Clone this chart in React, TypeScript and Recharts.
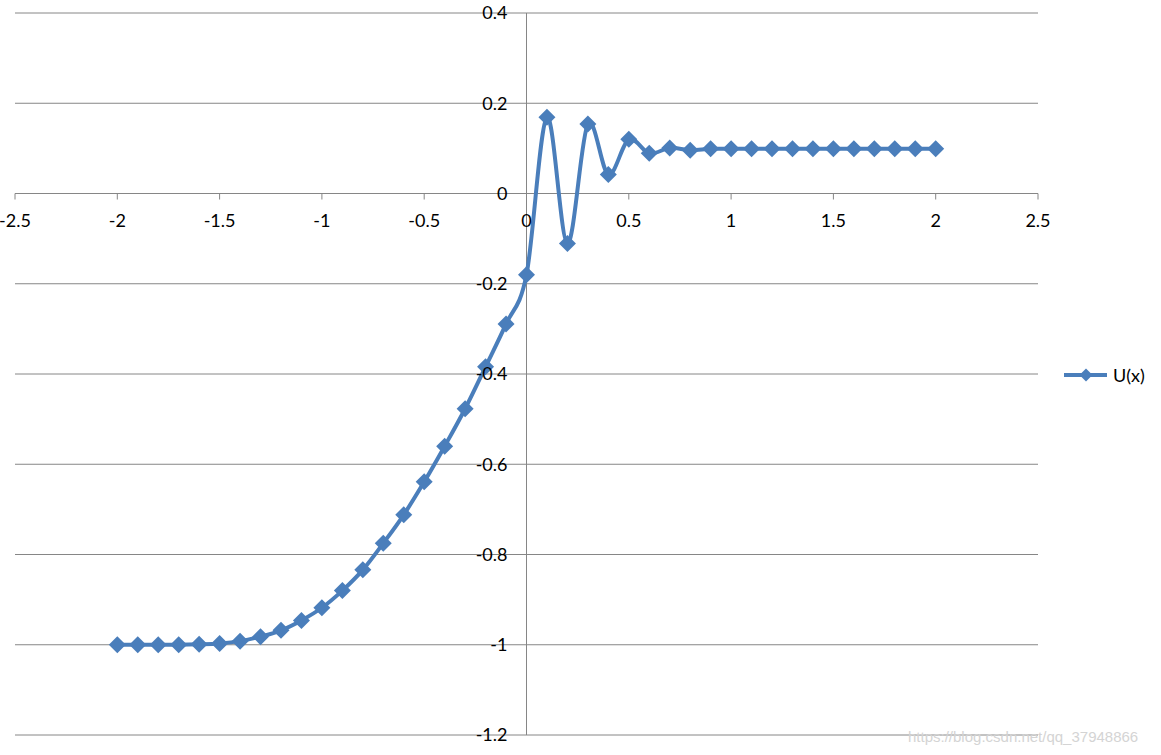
import React from "react";
import {
  LineChart,
  Line,
  XAxis,
  YAxis,
  CartesianGrid,
  ReferenceLine,
} from "recharts";

// x positions, -2 .. 2 in steps of 0.1
const xValues = [
  -2, -1.9, -1.8, -1.7, -1.6, -1.5, -1.4, -1.3, -1.2, -1.1, -1, -0.9, -0.8,
  -0.7, -0.6, -0.5, -0.4, -0.3, -0.2, -0.1, 0, 0.1, 0.2, 0.3, 0.4, 0.5, 0.6,
  0.7, 0.8, 0.9, 1, 1.1, 1.2, 1.3, 1.4, 1.5, 1.6, 1.7, 1.8, 1.9, 2,
];

const uValues = [
  -1.0, -1.0, -1.0, -1.0, -0.999, -0.997, -0.992, -0.982, -0.968, -0.946,
  -0.918, -0.88, -0.834, -0.775, -0.712, -0.639, -0.56, -0.477, -0.384,
  -0.289, -0.18, 0.169, -0.111, 0.154, 0.042, 0.12, 0.089, 0.101, 0.096,
  0.099, 0.099, 0.099, 0.099, 0.099, 0.099, 0.099, 0.099, 0.099, 0.099,
  0.099, 0.099,
];

const xTicks = [-2.5, -2, -1.5, -1, -0.5, 0, 0.5, 1, 1.5, 2, 2.5];
const yTicks = [-1.2, -1, -0.8, -0.6, -0.4, -0.2, 0, 0.2, 0.4];

const data = xValues.map((x, i) => ({ x, u: uValues[i] }));

const W = 1161;
const H = 755;
// plot area spans x 15..1038, y 13..735; axes take left 15 / bottom 20
const X_AXIS_H = 20;
const Y_AXIS_W = 15;
const M = { top: 13, left: 0, right: 123, bottom: 0 };
const plotLeft = Y_AXIS_W;
const plotW = W - Y_AXIS_W - M.right;
const plotH = H - M.top - X_AXIS_H;
const X_MIN = -2.5;
const X_MAX = 2.5;
const Y_MIN = -1.2;
const Y_MAX = 0.4;
// pixel position of the crossing axes
const xZero = plotLeft + (plotW * (0 - X_MIN)) / (X_MAX - X_MIN);
const yZero = M.top + (plotH * (Y_MAX - 0)) / (Y_MAX - Y_MIN);

const BLUE = "#4A7EBB";
const GRID = "#868686";
const FONT = "Lato, 'Open Sans', sans-serif";

// Excel-like smoothed line (Catmull-Rom through the points)
const excelSmooth = (context: any) => {
  let pts: [number, number][] = [];
  return {
    areaStart() {},
    areaEnd() {},
    lineStart() {
      pts = [];
    },
    lineEnd() {
      if (!pts.length) return;
      context.moveTo(pts[0][0], pts[0][1]);
      for (let i = 0; i < pts.length - 1; i++) {
        const p0 = pts[i - 1] || pts[i];
        const p1 = pts[i];
        const p2 = pts[i + 1];
        const p3 = pts[i + 2] || p2;
        const t = 1 / 6;
        context.bezierCurveTo(
          p1[0] + (p2[0] - p0[0]) * t,
          p1[1] + (p2[1] - p0[1]) * t,
          p2[0] - (p3[0] - p1[0]) * t,
          p2[1] - (p3[1] - p1[1]) * t,
          p2[0],
          p2[1]
        );
      }
    },
    point(x: number, y: number) {
      pts.push([+x, +y]);
    },
  };
};

const Diamond = (props: any) => {
  const { cx, cy, index } = props;
  if (cx == null || cy == null) return <g key={index} />;
  const s = 8.5;
  return (
    <path
      key={index}
      d={`M${cx},${cy - s}L${cx + s},${cy}L${cx},${cy + s}L${cx - s},${cy}Z`}
      fill={BLUE}
    />
  );
};

const XTick = (props: any) => {
  const { x, payload } = props;
  return (
    <g>
      <line x1={x} x2={x} y1={yZero} y2={yZero + 6} stroke={GRID} />
      <text
        x={x}
        y={yZero + 27}
        dy="0.35em"
        textAnchor="middle"
        fill="#000"
        fontSize={18}
        fontFamily={FONT}
      >
        {payload.value}
      </text>
    </g>
  );
};

const YTick = (props: any) => {
  const { y, payload } = props;
  return (
    <text
      x={xZero - 19}
      y={y}
      dy="0.35em"
      textAnchor="end"
      fill="#000"
      fontSize={18}
      fontFamily={FONT}
    >
      {payload.value}
    </text>
  );
};

export default function App() {
  return (
    <div
      style={{
        position: "absolute",
        left: 0,
        top: 0,
        width: W,
        height: H,
        background: "#fff",
      }}
    >
      <LineChart width={W} height={H} data={data} margin={M}>
        <CartesianGrid horizontal vertical={false} stroke={GRID} />
        <XAxis
          type="number"
          dataKey="x"
          domain={[X_MIN, X_MAX]}
          ticks={xTicks}
          height={X_AXIS_H}
          axisLine={false}
          tickLine={false}
          tick={<XTick />}
          interval={0}
        />
        <YAxis
          type="number"
          domain={[Y_MIN, Y_MAX]}
          ticks={yTicks}
          width={Y_AXIS_W}
          axisLine={false}
          tickLine={false}
          tick={<YTick />}
          interval={0}
        />
        <ReferenceLine y={0} stroke={GRID} />
        <ReferenceLine x={0} stroke={GRID} />
        <Line
          type={excelSmooth as any}
          dataKey="u"
          name="U(x)"
          stroke={BLUE}
          strokeWidth={4}
          dot={<Diamond />}
          activeDot={false}
          isAnimationActive={false}
        />
      </LineChart>
      <div
        style={{
          position: "absolute",
          left: 1062,
          top: 364,
          display: "flex",
          alignItems: "center",
        }}
      >
        <svg width={46} height={22}>
          <line x1={2} x2={45} y1={11} y2={11} stroke={BLUE} strokeWidth={4} />
          <path d="M24,4.5L30.5,11L24,17.5L17.5,11Z" fill={BLUE} />
        </svg>
        <span
          style={{ fontFamily: FONT, fontSize: 18, color: "#000", marginLeft: 5 }}
        >
          U(x)
        </span>
      </div>
      <div
        style={{
          position: "absolute",
          left: 908,
          top: 728,
          fontFamily: "Arial, 'Liberation Sans', sans-serif",
          fontSize: 15,
          color: "#d4d4d4",
          whiteSpace: "nowrap",
        }}
      >
        https://blog.csdn.net/qq_37948866
      </div>
    </div>
  );
}
